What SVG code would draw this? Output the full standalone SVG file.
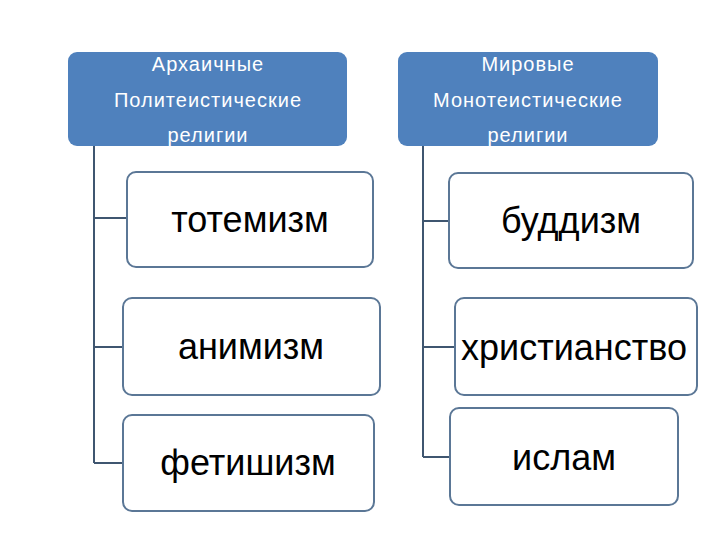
<svg xmlns="http://www.w3.org/2000/svg" width="720" height="540" viewBox="0 0 720 540">
<style>
.hdr{fill:#4f81bd;}
.htxt{font-family:"Liberation Sans","DejaVu Sans",sans-serif;font-size:20px;letter-spacing:1px;fill:#ffffff;text-anchor:middle;}
.box{fill:#ffffff;stroke:#5b7796;stroke-width:2;}
.btxt{font-family:"Liberation Sans","DejaVu Sans",sans-serif;font-size:36px;fill:#000000;text-anchor:middle;}
.conn{fill:none;stroke:#3f5670;stroke-width:2;}
</style>
<rect width="720" height="540" fill="#ffffff"/>
<g id="connectors">
<path class="conn" d="M94 146 V463 M94 218 H127 M94 347 H123 M94 463 H123"/>
<path class="conn" d="M423 146 V457 M423 221 H449 M423 347 H455 M423 457 H450"/>
</g>
<g id="header-left">
<rect class="hdr" x="68" y="52" width="279" height="94" rx="9"/>
<text class="htxt" x="208" y="71">Архаичные</text>
<text class="htxt" x="208" y="107">Политеистические</text>
<text class="htxt" x="208" y="142">религии</text>
</g>
<g id="header-right">
<rect class="hdr" x="398" y="52" width="260" height="94" rx="9"/>
<text class="htxt" x="528" y="71">Мировые</text>
<text class="htxt" x="528" y="107">Монотеистические</text>
<text class="htxt" x="528" y="142">религии</text>
</g>
<g id="totemizm">
<rect class="box" x="127" y="172" width="246" height="95" rx="9"/>
<text class="btxt" x="250" y="232">тотемизм</text>
</g>
<g id="animizm">
<rect class="box" x="123" y="298" width="257" height="97" rx="9"/>
<text class="btxt" x="251" y="359">анимизм</text>
</g>
<g id="fetishizm">
<rect class="box" x="123" y="415" width="251" height="96" rx="9"/>
<text class="btxt" x="248" y="475">фетишизм</text>
</g>
<g id="buddizm">
<rect class="box" x="449" y="173" width="244" height="95" rx="9"/>
<text class="btxt" x="571" y="233">буддизм</text>
</g>
<g id="hristianstvo">
<rect class="box" x="455" y="298" width="242" height="97" rx="9"/>
<text class="btxt" x="574" y="360">христианство</text>
</g>
<g id="islam">
<rect class="box" x="450" y="408" width="228" height="97" rx="9"/>
<text class="btxt" x="564" y="470">ислам</text>
</g>
</svg>
